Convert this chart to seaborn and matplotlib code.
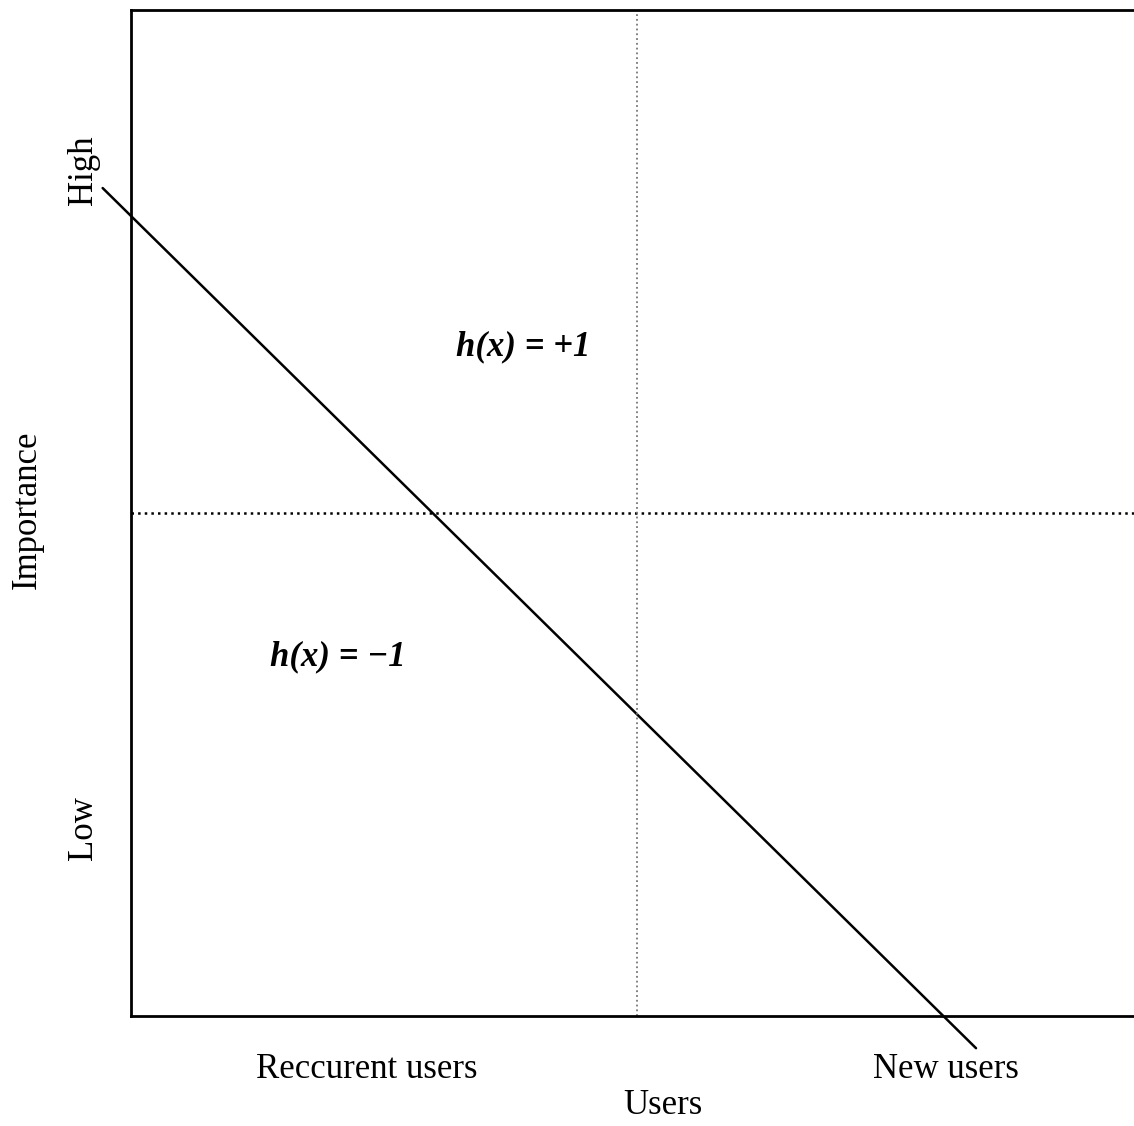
import pandas as pd
import seaborn as sns
from matplotlib import pyplot as plt

# decision boundary points (data coords, axes span 0..10)
boundary_x = [-0.28, 8.35]
boundary_y = [8.23, -0.32]

x_ticks = [2.33, 8.05]
x_tick_labels = ['Reccurent users', 'New users']
y_ticks = [8.41, 1.87]
y_tick_labels = ['High', 'Low']

mid_x = 5.0
mid_y = 5.0

labels = ['h(x) = +1', 'h(x) = \u22121']
label_x = [3.88, 2.04]
label_y = [6.65, 3.57]

sns.set_style('white')
plt.rcParams['font.family'] = ['Liberation Serif', 'DejaVu Serif']
plt.rcParams['text.color'] = 'black'
plt.rcParams['axes.labelcolor'] = 'black'
plt.rcParams['xtick.color'] = 'black'
plt.rcParams['ytick.color'] = 'black'

fig = plt.figure(figsize=(11.34, 11.26), dpi=100)
ax = fig.add_axes([131 / 1134, 110 / 1126, 1012 / 1134, 1006 / 1126])

df = pd.DataFrame({'x': boundary_x, 'y': boundary_y})
sns.lineplot(data=df, x='x', y='y', ax=ax, color='black', linewidth=1.8, clip_on=False)

ax.axhline(mid_y, color='black', linestyle=':', linewidth=1.8)
ax.axvline(mid_x, color='#777777', linestyle=':', linewidth=1.3)

for txt, tx, ty in zip(labels, label_x, label_y):
    ax.text(tx, ty, txt, fontsize=25, style='italic', fontweight='bold',
            ha='center', va='center')

ax.set_xlim(0, 10)
ax.set_ylim(0, 10)
ax.set_xticks(x_ticks)
ax.set_xticklabels(x_tick_labels, fontsize=25)
ax.set_yticks(y_ticks)
ax.set_yticklabels(y_tick_labels, fontsize=25, rotation=90, va='center')
ax.tick_params(axis='x', length=0, pad=27)
ax.tick_params(axis='y', length=0, pad=22)
ax.set_xlabel('Users', fontsize=25)
ax.set_ylabel('Importance', fontsize=25)
ax.xaxis.set_label_coords((663 - 131) / 1012, -(1106 - 1016) / 1006)
ax.yaxis.set_label_coords(-(131 - 27) / 1012, (1016 - 510) / 1006)
ax.xaxis.label.set_va('center')
ax.yaxis.label.set_va('center')

for side in ['left', 'bottom', 'top']:
    ax.spines[side].set_color('black')
    ax.spines[side].set_linewidth(2)
ax.spines['right'].set_visible(False)

fig.savefig('out.png', dpi=100)
plt.close()
